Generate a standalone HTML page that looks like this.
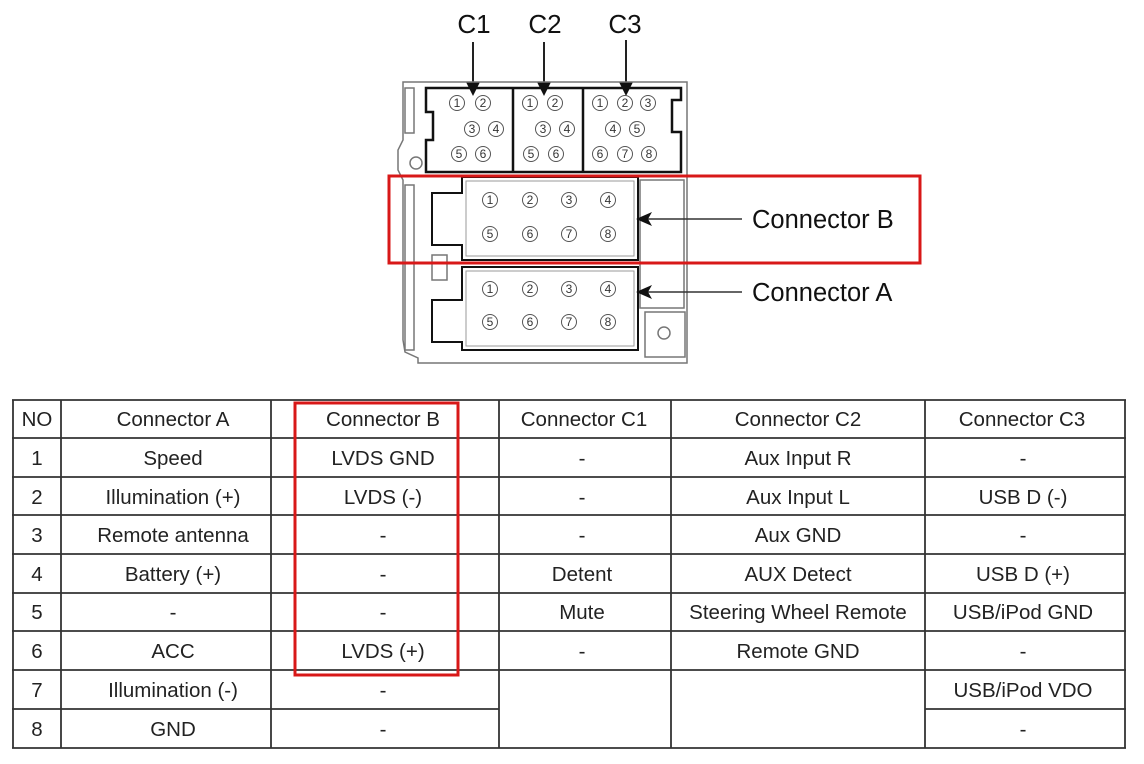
<!DOCTYPE html>
<html><head><meta charset="utf-8"><style>
body{margin:0;background:#fff;width:1144px;height:764px;overflow:hidden;font-family:"Liberation Sans",sans-serif;}
svg{position:absolute;left:0;top:0}
</style></head><body>
<svg width="1144" height="764" viewBox="0 0 1144 764" xmlns="http://www.w3.org/2000/svg" font-family="Liberation Sans, DejaVu Sans, sans-serif">
<g font-size="26" fill="#111" text-anchor="middle">
<text x="474" y="33">C1</text><text x="545" y="33">C2</text><text x="625" y="33">C3</text>
</g>
<g stroke="#222" stroke-width="2" fill="#111">
<line x1="473" y1="42" x2="473" y2="86"/><polygon points="466,82 480,82 473,96" stroke="none"/>
<line x1="544" y1="42" x2="544" y2="86"/><polygon points="537,82 551,82 544,96" stroke="none"/>
<line x1="626" y1="40" x2="626" y2="86"/><polygon points="619,82 633,82 626,96" stroke="none"/>
</g>
<g fill="none" stroke="#777" stroke-width="1.5">
<path d="M403,82 L687,82 L687,363 L418,363 L418,358 L405,352 L403,340 L403,180 L398,170 L398,150 L403,140 Z"/>
<rect x="405" y="88" width="9" height="45"/>
<rect x="405" y="185" width="9" height="165"/>
<circle cx="416" cy="163" r="6"/>
<rect x="640" y="180" width="44" height="128"/>
<rect x="645" y="312" width="40" height="45"/>
<circle cx="664" cy="333" r="6"/>
<rect x="432" y="255" width="15" height="25"/>
</g>
<g fill="none" stroke="#111" stroke-width="2.5">
<path d="M426,88 L681,88 L681,100 L672,100 L672,132 L681,132 L681,172 L426,172 L426,140 L433,140 L433,112 L426,112 Z"/>
<line x1="513" y1="88" x2="513" y2="172"/><line x1="583" y1="88" x2="583" y2="172"/>
<path d="M432,193 L462,193 L462,177 L638,177 L638,260 L462,260 L462,245 L432,245 Z" stroke-width="2"/>
<path d="M432,300 L462,300 L462,267 L638,267 L638,350 L462,350 L462,342 L432,342 Z" stroke-width="2"/>
</g>
<g fill="none" stroke="#999" stroke-width="1">
<rect x="466" y="181" width="168" height="75"/>
<rect x="466" y="271" width="168" height="75"/>
</g>
<g id="pins" font-size="12" fill="#333" text-anchor="middle">
<g fill="none" stroke="#555" stroke-width="1">
<circle cx="457" cy="103" r="7.5"/><circle cx="483" cy="103" r="7.5"/>
<circle cx="472" cy="129" r="7.5"/><circle cx="496" cy="129" r="7.5"/>
<circle cx="459" cy="154" r="7.5"/><circle cx="483" cy="154" r="7.5"/>
<circle cx="530" cy="103" r="7.5"/><circle cx="555" cy="103" r="7.5"/>
<circle cx="543" cy="129" r="7.5"/><circle cx="567" cy="129" r="7.5"/>
<circle cx="531" cy="154" r="7.5"/><circle cx="556" cy="154" r="7.5"/>
<circle cx="600" cy="103" r="7.5"/><circle cx="625" cy="103" r="7.5"/><circle cx="648" cy="103" r="7.5"/>
<circle cx="613" cy="129" r="7.5"/><circle cx="637" cy="129" r="7.5"/>
<circle cx="600" cy="154" r="7.5"/><circle cx="625" cy="154" r="7.5"/><circle cx="649" cy="154" r="7.5"/>
<circle cx="490" cy="200" r="7.5"/><circle cx="530" cy="200" r="7.5"/><circle cx="569" cy="200" r="7.5"/><circle cx="608" cy="200" r="7.5"/>
<circle cx="490" cy="234" r="7.5"/><circle cx="530" cy="234" r="7.5"/><circle cx="569" cy="234" r="7.5"/><circle cx="608" cy="234" r="7.5"/>
<circle cx="490" cy="289" r="7.5"/><circle cx="530" cy="289" r="7.5"/><circle cx="569" cy="289" r="7.5"/><circle cx="608" cy="289" r="7.5"/>
<circle cx="490" cy="322" r="7.5"/><circle cx="530" cy="322" r="7.5"/><circle cx="569" cy="322" r="7.5"/><circle cx="608" cy="322" r="7.5"/>
</g>
<text x="457" y="107">1</text><text x="483" y="107">2</text>
<text x="472" y="133">3</text><text x="496" y="133">4</text>
<text x="459" y="158">5</text><text x="483" y="158">6</text>
<text x="530" y="107">1</text><text x="555" y="107">2</text>
<text x="543" y="133">3</text><text x="567" y="133">4</text>
<text x="531" y="158">5</text><text x="556" y="158">6</text>
<text x="600" y="107">1</text><text x="625" y="107">2</text><text x="648" y="107">3</text>
<text x="613" y="133">4</text><text x="637" y="133">5</text>
<text x="600" y="158">6</text><text x="625" y="158">7</text><text x="649" y="158">8</text>
<text x="490" y="204">1</text><text x="530" y="204">2</text><text x="569" y="204">3</text><text x="608" y="204">4</text>
<text x="490" y="238">5</text><text x="530" y="238">6</text><text x="569" y="238">7</text><text x="608" y="238">8</text>
<text x="490" y="293">1</text><text x="530" y="293">2</text><text x="569" y="293">3</text><text x="608" y="293">4</text>
<text x="490" y="326">5</text><text x="530" y="326">6</text><text x="569" y="326">7</text><text x="608" y="326">8</text>
</g>
<g stroke="#333" stroke-width="1.5" fill="#111">
<line x1="645" y1="219" x2="742" y2="219"/><polygon points="636,219 652,212 648,219 652,226" stroke="none"/>
<line x1="645" y1="292" x2="742" y2="292"/><polygon points="636,292 652,285 648,292 652,299" stroke="none"/>
</g>
<g font-size="25.5" fill="#111">
<text x="752" y="228">Connector B</text><text x="752" y="301">Connector A</text>
</g>
<rect x="389" y="176" width="531" height="87" fill="none" stroke="#d81818" stroke-width="3"/>
<g stroke="#333" stroke-width="1.8">
<line x1="12" y1="400" x2="1126" y2="400"/>
<line x1="12" y1="438" x2="1126" y2="438"/>
<line x1="12" y1="477" x2="1126" y2="477"/>
<line x1="12" y1="515" x2="1126" y2="515"/>
<line x1="12" y1="554" x2="1126" y2="554"/>
<line x1="12" y1="593" x2="1126" y2="593"/>
<line x1="12" y1="631" x2="1126" y2="631"/>
<line x1="12" y1="670" x2="1126" y2="670"/>
<line x1="12" y1="709" x2="499" y2="709"/>
<line x1="925" y1="709" x2="1126" y2="709"/>
<line x1="12" y1="748" x2="1126" y2="748"/>
<line x1="13" y1="400" x2="13" y2="748"/>
<line x1="61" y1="400" x2="61" y2="748"/>
<line x1="271" y1="400" x2="271" y2="748"/>
<line x1="499" y1="400" x2="499" y2="748"/>
<line x1="671" y1="400" x2="671" y2="748"/>
<line x1="925" y1="400" x2="925" y2="748"/>
<line x1="1125" y1="400" x2="1125" y2="748"/>
</g>
<g font-size="20.5" fill="#222" text-anchor="middle">
<text x="37" y="426">NO</text><text x="173" y="426">Connector A</text><text x="383" y="426">Connector B</text><text x="584" y="426">Connector C1</text><text x="798" y="426">Connector C2</text><text x="1022" y="426">Connector C3</text>
<text x="37" y="465">1</text><text x="173" y="465">Speed</text><text x="383" y="465">LVDS GND</text><text x="582" y="465">-</text><text x="798" y="465">Aux Input R</text><text x="1023" y="465">-</text>
<text x="37" y="504">2</text><text x="173" y="504">Illumination (+)</text><text x="383" y="504">LVDS (-)</text><text x="582" y="504">-</text><text x="798" y="504">Aux Input L</text><text x="1023" y="504">USB D (-)</text>
<text x="37" y="542">3</text><text x="173" y="542">Remote antenna</text><text x="383" y="542">-</text><text x="582" y="542">-</text><text x="798" y="542">Aux GND</text><text x="1023" y="542">-</text>
<text x="37" y="581">4</text><text x="173" y="581">Battery (+)</text><text x="383" y="581">-</text><text x="582" y="581">Detent</text><text x="798" y="581">AUX Detect</text><text x="1023" y="581">USB D (+)</text>
<text x="37" y="619">5</text><text x="173" y="619">-</text><text x="383" y="619">-</text><text x="582" y="619">Mute</text><text x="798" y="619">Steering Wheel Remote</text><text x="1023" y="619">USB/iPod GND</text>
<text x="37" y="658">6</text><text x="173" y="658">ACC</text><text x="383" y="658">LVDS (+)</text><text x="582" y="658">-</text><text x="798" y="658">Remote GND</text><text x="1023" y="658">-</text>
<text x="37" y="697">7</text><text x="173" y="697">Illumination (-)</text><text x="383" y="697">-</text><text x="1023" y="697">USB/iPod VDO</text>
<text x="37" y="736">8</text><text x="173" y="736">GND</text><text x="383" y="736">-</text><text x="1023" y="736">-</text>
</g>
<rect x="295" y="403" width="163" height="272" fill="none" stroke="#d81818" stroke-width="3"/>
</svg>
</body></html>
